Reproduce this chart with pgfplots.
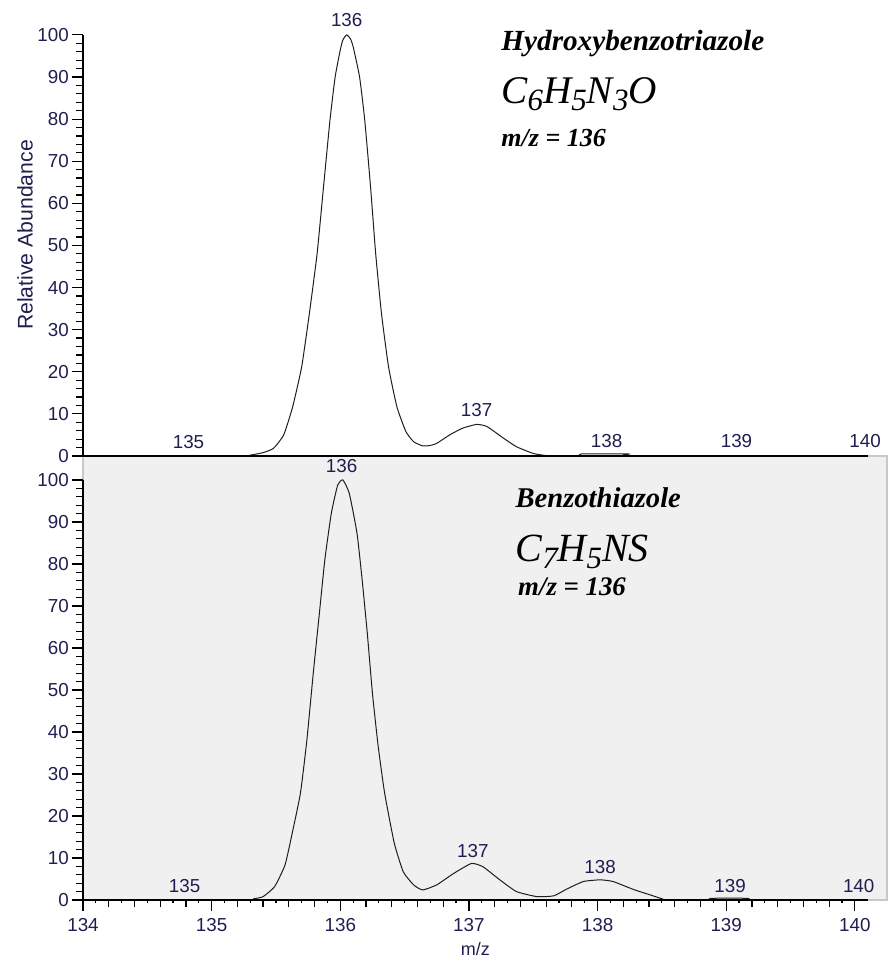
\documentclass[border=0pt]{standalone}
\usepackage{fontspec}
\setmainfont{Liberation Sans}
\newfontfamily\tnr{Liberation Serif}
\usepackage{pgfplots}
\pgfplotsset{compat=1.18}
\definecolor{tickcol}{RGB}{30,30,80}
\definecolor{panelgray}{RGB}{240,240,240}
\definecolor{framegray}{RGB}{200,200,200}
\definecolor{trace}{RGB}{30,30,30}

% spectra (m/z, relative abundance)
\pgfplotstableread{
mz y
134.00 0
135.25 0
135.30 0.2
135.40 0.8
135.48 1.8
135.56 5.0
135.63 11.7
135.70 21.2
135.76 33.9
135.82 48.1
135.87 64.0
135.92 79.8
135.96 90.0
136.00 96.4
136.02 98.8
136.05 100.0
136.08 99.0
136.10 97.2
136.15 90.0
136.19 79.8
136.235 64.0
136.275 48.1
136.32 33.9
136.375 21.2
136.44 11.7
136.51 5.8
136.57 3.4
136.64 2.4
136.70 2.5
136.75 3.0
136.85 5.0
136.95 6.6
137.06 7.5
137.14 7.0
137.27 4.2
137.37 2.2
137.50 0.6
137.60 0.1
137.70 0
137.85 0
137.88 0.5
138.24 0.5
138.27 0
140.10 0
}\hobt
\pgfplotstableread{
mz y
134.00 0
135.28 0
135.33 0.3
135.40 0.8
135.49 3.2
135.57 8.3
135.62 15.0
135.69 25.4
135.74 38.0
135.79 54.0
135.84 69.0
135.88 81.0
135.93 92.0
135.98 98.8
136.02 100.0
136.07 96.8
136.13 87.3
136.17 76.2
136.21 63.5
136.25 49.2
136.295 36.5
136.345 25.4
136.42 13.5
136.49 6.7
136.57 3.6
136.64 2.4
136.75 3.6
136.88 6.3
137.02 8.7
137.11 7.9
137.24 4.8
137.37 2.0
137.53 0.8
137.66 1.0
137.76 2.6
137.89 4.4
138.02 4.8
138.12 4.4
138.28 2.5
138.41 1.2
138.51 0.2
138.55 0
138.85 0
138.88 0.4
139.17 0.4
139.20 0
140.10 0
}\bta

\pgfplotsset{msaxis/.style={
  scale only axis, width=402pt, xmin=134, xmax=140.25,
  axis lines*=left, axis line style={draw=none},
  tick align=outside, clip=false,
  ytick={0,10,...,100}, minor y tick num=4,
  major tick length=5.6pt, minor tick length=3.6pt,
  every tick/.style={black, line width=0.6pt},
  tick label style={font=\fontsize{9.4}{10}\selectfont, text=tickcol},
  yticklabel style={xshift=2pt},
  /pgf/number format/assume math mode=true,
}}
\tikzset{pk/.style={anchor=base, font=\fontsize{9.4}{10}\selectfont, text=tickcol}}

\begin{document}
\begin{tikzpicture}
\useasboundingbox (-41.5pt,-29pt) rectangle (403pt,450pt);

% lower panel: benzothiazole
\begin{axis}[msaxis, at={(0pt,0pt)}, anchor=south west, height=222pt,
  ymin=0, ymax=105.7,
  axis background/.style={fill=panelgray, draw=framegray, line width=0.6pt},
  xtick={134,...,140},
  minor xtick={134.2,134.4,...,139.8},
  extra x ticks={134.1,134.3,...,139.9},
  extra x tick labels={},
  extra x tick style={major tick length=1.7pt},
  xlabel={m/z},
  xlabel style={at={(axis description cs:0.488,0)}, anchor=base, yshift=-27.5pt,
    font=\fontsize{9}{10}\selectfont, text=tickcol},
]
\addplot[trace, line width=0.5pt, smooth, tension=0.3] table[x=mz, y=y] {\bta};
\draw[black, line width=0.7pt] (axis cs:134,100) -- (axis cs:134,0) -- (axis cs:140.1,0);
\node[pk] at (axis cs:134.79,1.7) {135};
\node[pk] at (axis cs:136.01,101.7) {136};
\node[pk] at (axis cs:137.03,10.2) {137};
\node[pk] at (axis cs:138.02,6.4) {138};
\node[pk] at (axis cs:139.03,1.7) {139};
\node[pk] at (axis cs:140.03,1.7) {140};
\node[anchor=base west, inner sep=0pt, font=\tnr\bfseries\itshape\fontsize{14.3}{16}\selectfont]
  at (axis cs:137.36,93.5) {Benzothiazole};
\node[anchor=base west, inner sep=0pt, font=\tnr\itshape\fontsize{20}{22}\selectfont]
  at (axis cs:137.36,80.5) {C\raisebox{-3.2pt}{\fontsize{15.5}{15}\selectfont 7}H\raisebox{-3.2pt}{\fontsize{15.5}{15}\selectfont 5}NS};
\node[anchor=base west, inner sep=0pt, font=\tnr\bfseries\itshape\fontsize{13.4}{15}\selectfont]
  at (axis cs:137.38,72.4) {m/z = 136};
\end{axis}

% upper panel: hydroxybenzotriazole
\begin{axis}[msaxis, at={(0pt,222pt)}, anchor=south west, height=227.4pt,
  ymin=0, ymax=108,
  xtick=\empty,
  ylabel={Relative Abundance},
  ylabel style={at={(axis description cs:-0.072,0.486)}, anchor=center,
    font=\fontsize{10.6}{12}\selectfont, text=tickcol},
]
\addplot[trace, line width=0.5pt, smooth, tension=0.3] table[x=mz, y=y] {\hobt};
\draw[black, line width=0.7pt] (axis cs:134,100) -- (axis cs:134,0) -- (axis cs:140.1,0);
\node[pk] at (axis cs:134.82,1.7) {135};
\node[pk] at (axis cs:136.05,101.9) {136};
\node[pk] at (axis cs:137.06,9.3) {137};
\node[pk] at (axis cs:138.07,1.9) {138};
\node[pk] at (axis cs:139.08,1.9) {139};
\node[pk] at (axis cs:140.08,1.9) {140};
\node[anchor=base west, inner sep=0pt, font=\tnr\bfseries\itshape\fontsize{14.6}{16}\selectfont]
  at (axis cs:137.25,96.4) {Hydroxybenzotriazole};
\node[anchor=base west, inner sep=0pt, font=\tnr\itshape\fontsize{19.6}{22}\selectfont]
  at (axis cs:137.25,83.6) {C\raisebox{-3.2pt}{\fontsize{15.5}{15}\selectfont 6}H\raisebox{-3.2pt}{\fontsize{15.5}{15}\selectfont 5}N\raisebox{-3.2pt}{\fontsize{15.5}{15}\selectfont 3}O};
\node[anchor=base west, inner sep=0pt, font=\tnr\bfseries\itshape\fontsize{13}{15}\selectfont]
  at (axis cs:137.25,73.5) {m/z = 136};
\end{axis}
\end{tikzpicture}
\end{document}
